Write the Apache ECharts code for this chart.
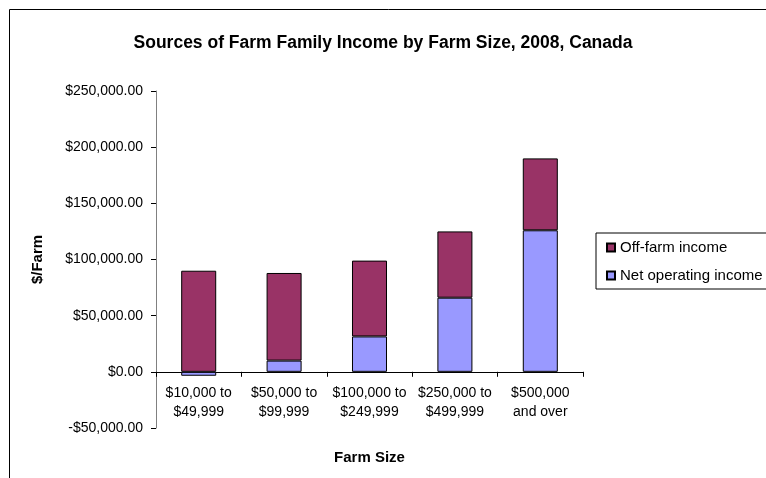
<!DOCTYPE html>
<html>
<head>
<meta charset="utf-8">
<script src="https://cdn.jsdelivr.net/npm/echarts@6/dist/echarts.min.js"></script>
<style>
  html, body { margin: 0; padding: 0; background: #fff; }
  #chart { width: 766px; height: 478px; }
</style>
</head>
<body>
<div id="chart"></div>
<script>
var categories = ['$10,000 to\n$49,999', '$50,000 to\n$99,999', '$100,000 to\n$249,999', '$250,000 to\n$499,999', '$500,000\nand over'];
var netOperating = [-3500, 10000, 31500, 66000, 126000];
var offFarm = [90000, 78000, 67500, 59000, 64000];

var FONT = '"Liberation Sans", Arial, sans-serif';

function money(v) {
  var s = '$' + Math.abs(v).toLocaleString('en-US', {minimumFractionDigits: 2, maximumFractionDigits: 2});
  return v < 0 ? '-' + s : s;
}

var chart = echarts.init(document.getElementById('chart'));
chart.setOption({
  animation: false,
  textStyle: { fontFamily: FONT },
  title: {
    text: 'Sources of Farm Family Income by Farm Size, 2008, Canada',
    left: 'center',
    top: 29,
    textStyle: { fontFamily: FONT, fontSize: 17.5, fontWeight: 'bold', color: '#000' }
  },
  // outer chart frame (runs off the right and bottom edges)
  graphic: [{
    type: 'rect',
    left: 7, top: 7,
    shape: { x: 0, y: 0, width: 800, height: 520 },
    style: { fill: null, stroke: '#000', lineWidth: 1 },
    z: -1
  }],
  legend: {
    data: ['Off-farm income', 'Net operating income'],
    orient: 'vertical',
    left: 596,
    top: 233,
    itemWidth: 8,
    itemHeight: 8,
    itemGap: 13,
    icon: 'rect',
    padding: [7, 60, 6, 10],
    borderColor: '#000',
    borderWidth: 1,
    textStyle: { fontFamily: FONT, fontSize: 15, color: '#000' }
  },
  grid: { left: 156, right: 183, top: 91, bottom: 50, outerBoundsMode: 'none' },
  xAxis: {
    type: 'category',
    data: categories,
    name: 'Farm Size',
    nameLocation: 'middle',
    nameGap: 79,
    nameTextStyle: { fontFamily: FONT, fontSize: 15, fontWeight: 'bold', color: '#000' },
    // axis drawn at $0 (one tick step, 56px, above the grid bottom)
    offset: -56.2,
    axisLine: { onZero: false, lineStyle: { color: '#000', width: 1 } },
    axisTick: { show: true, length: 5, lineStyle: { color: '#000' } },
    axisLabel: { interval: 0, fontFamily: FONT, fontSize: 14, color: '#000', lineHeight: 19, margin: 12 }
  },
  yAxis: {
    type: 'value',
    min: -50000,
    max: 250000,
    interval: 50000,
    name: '$/Farm',
    nameLocation: 'middle',
    nameGap: 111,
    nameTextStyle: { fontFamily: FONT, fontSize: 15, fontWeight: 'bold', color: '#000' },
    axisLine: { show: true, lineStyle: { color: '#808080', width: 1 } },
    axisTick: { show: true, length: 5, lineStyle: { color: '#000' } },
    splitLine: { show: false },
    axisLabel: { fontFamily: FONT, fontSize: 14, color: '#000', margin: 13, formatter: money }
  },
  series: [
    {
      name: 'Net operating income',
      type: 'bar',
      stack: 'income',
      barWidth: '41%',
      data: netOperating,
      itemStyle: { color: '#9999FF', borderColor: '#000', borderWidth: 1 }
    },
    {
      name: 'Off-farm income',
      type: 'bar',
      stack: 'income',
      barWidth: '41%',
      data: offFarm,
      itemStyle: { color: '#993366', borderColor: '#000', borderWidth: 1 }
    }
  ]
});
</script>
</body>
</html>
